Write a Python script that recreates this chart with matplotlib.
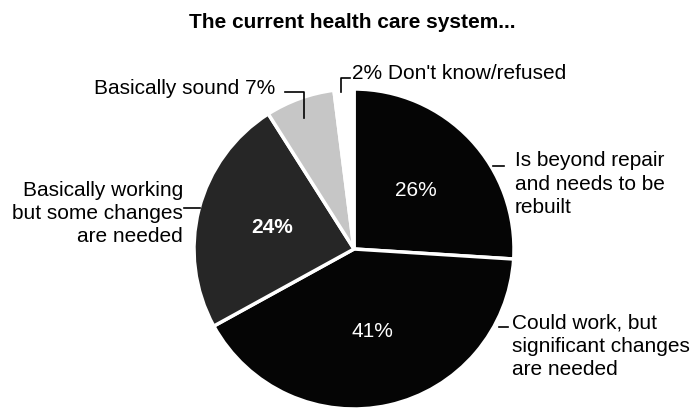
import matplotlib
matplotlib.use("Agg")
import matplotlib.pyplot as plt

# Data
answers = ['Is beyond repair\nand needs to be\nrebuilt',
           'Could work, but\nsignificant changes\nare needed',
           'Basically working\nbut some changes\nare needed',
           'Basically sound',
           "Don't know/refused"]
shares = [26, 41, 24, 7, 2]
slice_colors = ['#050505', '#050505', '#262626', '#c6c6c6', 'white']

plt.rcParams['font.family'] = ['Liberation Sans', 'DejaVu Sans']

fig = plt.figure(figsize=(6.96, 4.08), dpi=100)
fig.text(352 / 696, 1 - 22 / 408, 'The current health care system...',
         ha='center', va='center', fontsize=15, fontweight='bold')

# pie axes: center at (354, 249) px, radius 160 px
ax = fig.add_axes([194 / 696, -1 / 408, 320 / 696, 320 / 408])
wedges, texts, autotexts = ax.pie(
    shares, colors=slice_colors, startangle=90, counterclock=False,
    autopct='%d%%', pctdistance=0.53,
    wedgeprops=dict(edgecolor='white', linewidth=2.5),
    textprops=dict(color='white', fontsize=15))
ax.set_xlim(-1, 1)
ax.set_ylim(-1, 1)
ax.set_aspect('equal')
ax.axis('off')

# only the three big slices carry inside labels
autotexts[2].set_fontweight('bold')
autotexts[3].set_visible(False)
autotexts[4].set_visible(False)

fs = 15
ls = 1.28
lk = dict(color='black', lw=1.2, clip_on=False)

# Is beyond repair
ax.text(1.006, 0.406, answers[0], ha='left', va='center', fontsize=fs,
        linespacing=ls)
ax.plot([0.87, 0.935], [0.52, 0.52], **lk)

# Could work
ax.text(0.99, -0.61, answers[1], ha='left', va='center', fontsize=fs,
        linespacing=ls)
ax.plot([0.905, 0.965], [-0.49, -0.49], **lk)

# Basically working
ax.text(-1.07, 0.222, answers[2], ha='right', va='center', fontsize=fs,
        linespacing=ls, multialignment='right')
ax.plot([-1.06, -0.96], [0.256, 0.256], **lk)

# Basically sound
ax.text(-0.49, 1.0, f'{answers[3]} {shares[3]}%', ha='right', va='center',
        fontsize=fs)
ax.plot([-0.43, -0.3125, -0.3125], [0.98, 0.98, 0.82], **lk)

# Don't know
ax.text(-0.012, 1.094, f'{shares[4]}% {answers[4]}', ha='left', va='center',
        fontsize=fs)
ax.plot([-0.081, -0.081, -0.025], [0.981, 1.069, 1.069], **lk)

fig.savefig('out.png', dpi=100)
